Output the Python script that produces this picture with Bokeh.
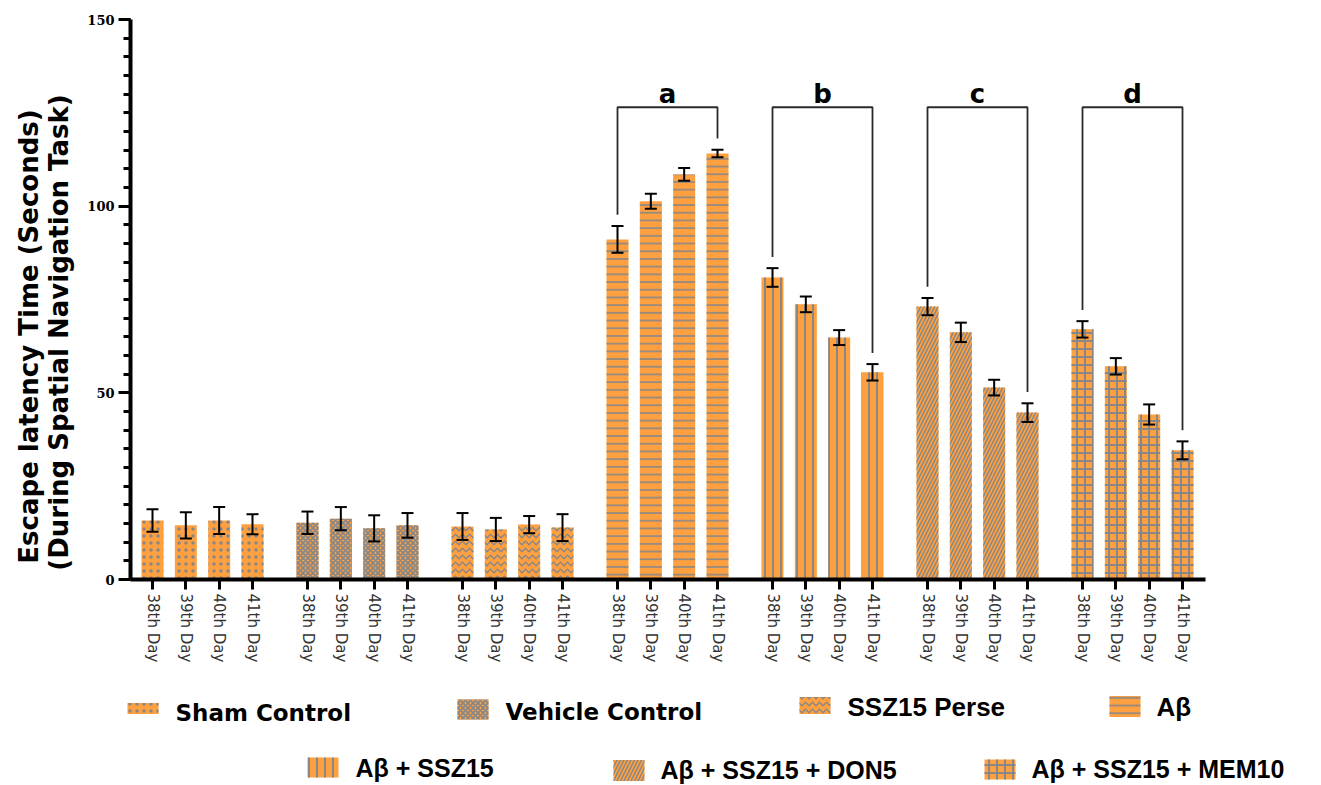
from math import pi

from bokeh.core.properties import value
from bokeh.embed import file_html
from bokeh.models import (ColumnDataSource, FixedTicker, LinearAxis, Range1d,
                          TeeHead, Whisker)
from bokeh.plotting import figure
from bokeh.resources import INLINE

# ---------------------------------------------------------------- data
days = ["38th Day", "39th Day", "40th Day", "41th Day"]
groups = ["Sham Control", "Vehicle Control", "SSZ15  Perse", "A\u03b2",
          "A\u03b2 + SSZ15", "A\u03b2 + SSZ15 + DON5", "A\u03b2 + SSZ15 + MEM10"]

sham_mean = [15.8, 14.5, 15.8, 14.8]
sham_sem = [3.0, 3.5, 3.6, 2.7]
vehicle_mean = [15.2, 16.3, 13.7, 14.5]
vehicle_sem = [3.0, 3.1, 3.5, 3.3]
perse_mean = [14.2, 13.4, 14.7, 13.9]
perse_sem = [3.6, 3.1, 2.3, 3.6]
abeta_mean = [91.1, 101.3, 108.5, 114.1]
abeta_sem = [3.6, 2.0, 1.7, 1.0]
ssz_mean = [80.9, 73.7, 64.8, 55.5]
ssz_sem = [2.5, 2.1, 2.0, 2.2]
don_mean = [73.1, 66.2, 51.4, 44.7]
don_sem = [2.3, 2.6, 2.1, 2.5]
mem_mean = [67.0, 57.1, 44.2, 34.6]
mem_sem = [2.2, 2.2, 2.7, 2.4]

means = [sham_mean, vehicle_mean, perse_mean, abeta_mean, ssz_mean, don_mean, mem_mean]
sems = [sham_sem, vehicle_sem, perse_sem, abeta_sem, ssz_sem, don_sem, mem_sem]

# significance brackets over the last four groups
bracket_letters = ["a", "b", "c", "d"]
bracket_groups = [3, 4, 5, 6]
bracket_level = 126.5

y_ticks = [0, 50, 100, 150]
y_max = 150

# ---------------------------------------------------------------- geometry
W, H = 1321, 785
PLOT_LEFT, PLOT_RIGHT, PLOT_TOP, PLOT_BOTTOM = 130, 1205, 19, 579

BAR_STEP = 20      # distance between neighbouring days
GROUP_STEP = 93    # distance between groups
BAR_WIDTH = 13.2
X_PAD_L, X_PAD_R = 13.2, 13.8

x_pos = [[g * GROUP_STEP + i * BAR_STEP for i in range(len(days))]
         for g in range(len(groups))]
all_x = [x for row in x_pos for x in row]

x0, x1 = -X_PAD_L, x_pos[-1][-1] + X_PAD_R
sx = (PLOT_RIGHT - PLOT_LEFT) / (x1 - x0)
sy = (PLOT_BOTTOM - PLOT_TOP) / y_max

# the canvas spans the whole page; the axes sit at fixed data locations
p = figure(width=W, height=H,
           x_range=Range1d(x0 - PLOT_LEFT / sx, x0 + (W - PLOT_LEFT) / sx),
           y_range=Range1d(-(H - PLOT_BOTTOM) / sy, PLOT_BOTTOM / sy),
           output_backend="svg", toolbar_location=None, min_border=0,
           x_axis_location=None, y_axis_location=None, title_location=None)
p.extra_x_ranges = {"px": Range1d(0, W)}
p.extra_y_ranges = {"py": Range1d(H, 0)}
p.grid.visible = False
p.outline_line_color = None
p.background_fill_color = "white"

# ---------------------------------------------------------------- styling
BAR_FILL = "#FFA040"
HATCH_COLOR = "#878787"
patterns = [
    dict(hatch_pattern="dot", hatch_scale=7, hatch_weight=1.2),
    dict(hatch_pattern="diagonal_cross", hatch_scale=5, hatch_weight=1.8),
    dict(hatch_pattern="horizontal_wave", hatch_scale=7, hatch_weight=1.4),
    dict(hatch_pattern="horizontal_line", hatch_scale=7.7, hatch_weight=1.6),
    dict(hatch_pattern="vertical_line", hatch_scale=8, hatch_weight=2),
    dict(hatch_pattern="right_diagonal_line", hatch_scale=7, hatch_weight=1.5),
    dict(hatch_pattern="cross", hatch_scale=8, hatch_weight=2),
]

# ---------------------------------------------------------------- bars
for g in range(len(groups)):
    lower = [m - s for m, s in zip(means[g], sems[g])]
    upper = [m + s for m, s in zip(means[g], sems[g])]
    src = ColumnDataSource(dict(x=x_pos[g], top=means[g], lower=lower, upper=upper))
    p.vbar(x="x", top="top", width=BAR_WIDTH, bottom=0, source=src,
           fill_color=BAR_FILL, line_color=None,
           hatch_color=HATCH_COLOR, **patterns[g])
    p.add_layout(Whisker(source=src, base="x", lower="lower", upper="upper",
                         line_color="black", line_width=2, level="overlay",
                         upper_head=TeeHead(size=12, line_width=2, line_color="black"),
                         lower_head=TeeHead(size=12, line_width=2, line_color="black")))

# ---------------------------------------------------------------- brackets
b_xs, b_ys, l_x, l_y = [], [], [], []
for g in bracket_groups:
    xl, xr = x_pos[g][0], x_pos[g][-1]
    yl = means[g][0] + sems[g][0] + 3
    yr = means[g][-1] + sems[g][-1] + 3
    b_xs.append([xl, xl, xr, xr])
    b_ys.append([yl, bracket_level, bracket_level, yr])
    l_x.append((xl + xr) / 2)
    l_y.append(bracket_level + 3.6)
p.multi_line(xs=b_xs, ys=b_ys, line_color="#2a2a2a", line_width=1.8)
p.text(x=l_x, y=l_y, text=bracket_letters, text_font=value("DejaVu Sans"),
       text_font_style="bold", text_font_size="26px", text_align="center",
       text_baseline="middle", text_color="black")

# ---------------------------------------------------------------- axes
yax = LinearAxis(fixed_location=x0, bounds=(0, y_max))
yax.ticker = FixedTicker(ticks=y_ticks, minor_ticks=list(range(0, y_max + 1, 5)))
yax.axis_line_width = 4
yax.axis_line_color = "black"
yax.major_tick_out = 12
yax.major_tick_in = 0
yax.minor_tick_out = 7
yax.minor_tick_in = 0
yax.major_tick_line_width = 3
yax.minor_tick_line_width = 3
yax.major_label_text_font = "DejaVu Serif"
yax.major_label_text_font_style = "bold"
yax.major_label_text_font_size = "13px"
yax.major_label_text_color = "black"
yax.major_label_standoff = 4
p.add_layout(yax, "left")

xax = LinearAxis(fixed_location=0, bounds=(x0, x1))
xax.ticker = FixedTicker(ticks=all_x)
xax.major_label_overrides = {x: days[i % len(days)] for i, x in enumerate(all_x)}
xax.major_label_orientation = "vertical"
xax.axis_line_width = 4
xax.axis_line_color = "black"
xax.major_tick_out = 10
xax.major_tick_in = 0
xax.major_tick_line_width = 3
xax.minor_tick_line_color = None
xax.major_label_text_font = "DejaVu Sans"
xax.major_label_text_font_size = "15px"
xax.major_label_text_color = "#333333"
xax.major_label_standoff = 4
p.add_layout(xax, "below")

# y title, two lines, placed in page pixels
title_lines = ["Escape latency Time (Seconds)", "(During Spatial Navigation Task)"]
p.text(x=[28, 58], y=[336, 332], text=title_lines, angle=pi / 2,
       x_range_name="px", y_range_name="py",
       text_font=value("DejaVu Sans"), text_font_style="bold",
       text_font_size="26px", text_align="center", text_baseline="middle",
       text_color="black")

# ---------------------------------------------------------------- legend
leg_box_left = [127, 457, 799, 1109, 307, 613, 984]
leg_box_center = [708, 709, 705, 706, 767, 770, 769]
leg_box_height = [11, 20, 17, 21, 20, 21, 20]
leg_text_x = [175, 505, 847, 1156, 355, 660, 1031]
leg_text_y = [712, 711, 706, 706, 767, 769, 768]
leg_font = ["DejaVu Sans", "DejaVu Sans", "Liberation Sans", "Liberation Sans",
            "Liberation Sans", "Liberation Sans", "Liberation Sans"]
leg_size = ["23px", "23px", "26px", "26px", "25px", "25px", "25px"]

for g in range(len(groups)):
    p.quad(left=[leg_box_left[g]], right=[leg_box_left[g] + 31],
           top=[leg_box_center[g] - leg_box_height[g] / 2],
           bottom=[leg_box_center[g] + leg_box_height[g] / 2],
           x_range_name="px", y_range_name="py",
           fill_color=BAR_FILL, line_color=None, hatch_color=HATCH_COLOR,
           **patterns[g])
    p.text(x=[leg_text_x[g]], y=[leg_text_y[g]], text=[groups[g]],
           x_range_name="px", y_range_name="py",
           text_font=value(leg_font[g]), text_font_style="bold",
           text_font_size=leg_size[g], text_align="left",
           text_baseline="middle", text_color="black")

open("out.html", "w").write(file_html(p, INLINE))
